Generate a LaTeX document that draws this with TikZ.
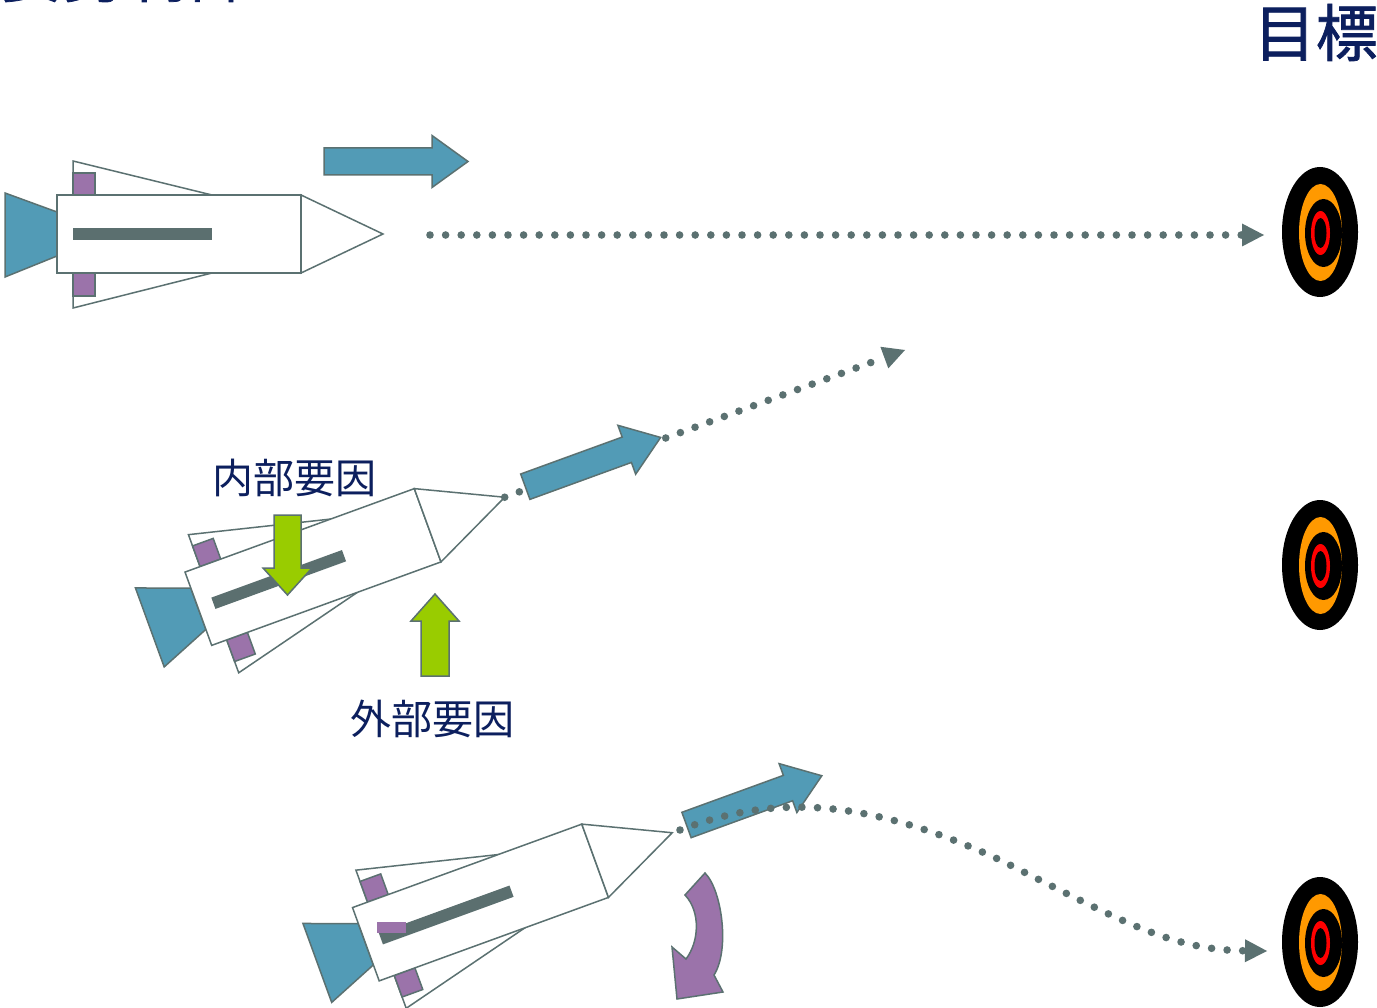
\documentclass[tikz,border=0pt]{standalone}
\usepackage{fontspec}
\newfontfamily\jpfont{Noto Sans CJK JP}
\newfontfamily\jpheavy{Noto Sans CJK JP}[FakeBold=1.2]
\usetikzlibrary{arrows.meta}
\definecolor{edge}{HTML}{5B7171}
\definecolor{barcol}{HTML}{5B6F6F}
\definecolor{teal}{HTML}{529BB6}
\definecolor{tabpurple}{HTML}{9B73AA}
\definecolor{lime}{HTML}{99CC00}
\definecolor{navy}{HTML}{0C1F5E}
\definecolor{ringorange}{HTML}{FF9900}
\definecolor{ringred}{HTML}{FF0000}
\begin{document}
\begin{tikzpicture}[x=1pt,y=-1pt,line join=miter,
  outl/.style={draw=edge,line width=1.5pt},
  dots/.style={draw=edge,line width=7.6pt,line cap=round,
    dash pattern=on 0pt off 15.6pt,
    -{Triangle[length=22pt,width=23pt,line width=0pt]}},
  label/.style={text=navy,inner sep=0pt},
  rocket/.pic={
    % fins behind the body
    \filldraw[outl,fill=white] (-106,-73) -- (33,-39) -- (33,39) -- (-106,74) -- cycle;
    \filldraw[outl,fill=tabpurple] (-106,-61) rectangle (-84,-39);
    \filldraw[outl,fill=tabpurple] (-106,39) rectangle (-84,62);
    % nozzle
    \filldraw[outl,fill=teal] (-174,-41) -- (-122,-22) -- (-122,22) -- (-174,43) -- cycle;
    % body and nose cone
    \filldraw[outl,fill=white] (-122,-39) rectangle (122,39);
    \filldraw[outl,fill=white] (122,-39) -- (204,0) -- (122,39) -- cycle;
    \fill[barcol] (-106,-6) rectangle (33,6);
    \coordinate (-tip) at (204,0);
  },
  thrust/.pic={
    \filldraw[outl,fill=teal] (0,-13.5) -- (108,-13.5) -- (108,-26) -- (144,0)
      -- (108,26) -- (108,13.5) -- (0,13.5) -- cycle;
  },
  target/.pic={
    \fill[black] (0,0) ellipse [x radius=38,y radius=65];
    \fill[ringorange] (0.5,0.5) ellipse [x radius=21.5,y radius=48.5];
    \fill[black] (3.5,1) ellipse [x radius=18.5,y radius=34];
    \fill[ringred] (0.5,1) ellipse [x radius=9.5,y radius=22];
    \fill[black] (0.5,1) ellipse [x radius=6,y radius=15];
    \coordinate (-c) at (0,0);
  }]
\useasboundingbox (0,0) rectangle (1377,1008);
\fill[white] (0,0) rectangle (1377,1008);

% headings
\node[label,font=\jpheavy\fontsize{62}{62}\selectfont,anchor=base west] (title) at (0,-3) {姿勢制御};
\node[label,font=\jpheavy\fontsize{62}{62}\selectfont,anchor=base east] (goal) at (1378,56) {目標};

% targets
\pic (t1) at (1320,232) {target};
\pic (t2) at (1320,565) {target};
\pic (t3) at (1320,942) {target};

% rockets
\pic (r1) at (179,234) {rocket};
\pic[rotate=20] (r2) at (313,567) {rocket};
\pic[rotate=20] (r3) at (480.5,902.5) {rocket};
\fill[tabpurple] (377,922) rectangle (406,933);

% straight flight
\pic (a1) at (324,161.5) {thrust};
\coordinate (e1) at (1264,235);
\coordinate (s1) at (430,235);
\draw[dots] (s1) -- (e1);

% deflected flight
\coordinate (e2) at (905,350);
\draw[dots] (r2-tip) -- (e2);
\pic[rotate=20] (a2) at (525.3,486.7) {thrust};

% internal and external factors
\filldraw[outl,fill=lime] (274,515) -- (301,515) -- (301,568) -- (312,568) -- (287.5,595)
  -- (263,568) -- (274,568) -- cycle;
\filldraw[outl,fill=lime] (421,676) -- (449,676) -- (449,621) -- (459,621) -- (435,594)
  -- (411,621) -- (421,621) -- cycle;
\node[label,font=\jpfont\fontsize{41}{41}\selectfont] (inner) at (294.5,477.5) {内部要因};
\node[label,font=\jpfont\fontsize{41}{41}\selectfont] (outer) at (432.5,719) {外部要因};

% corrected flight
\pic[rotate=20] (a3) at (686.5,825) {thrust};
\coordinate (s3) at (680,830);
\coordinate (e3) at (1267,951);
\draw[dots] (s3) .. controls (760,800) and (850,790) .. (1000,860)
  .. controls (1120,920) and (1170,950) .. (e3);

% turning arrow
\filldraw[outl,fill=tabpurple] (685,895) -- (705,873)
  .. controls (722,890) and (730,950) .. (714,975)
  -- (723,992) -- (677,999) -- (672,947) -- (686,959)
  .. controls (699,942) and (701,912) .. (685,895) -- cycle;
\end{tikzpicture}
\end{document}
